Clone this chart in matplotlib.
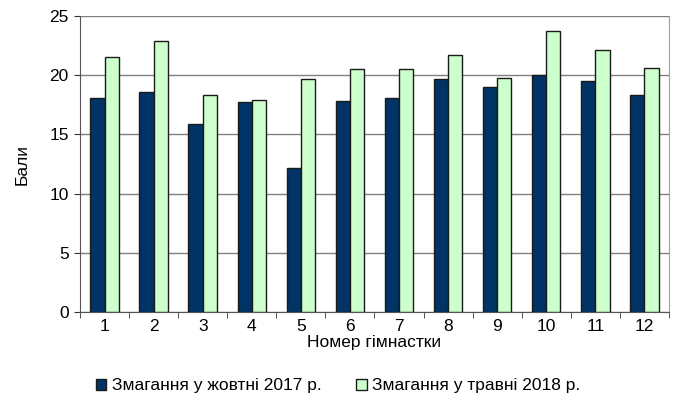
import matplotlib
matplotlib.use("Agg")
import matplotlib.pyplot as plt
import numpy as np

plt.rcParams['font.family'] = ['Liberation Sans', 'DejaVu Sans']

gymnastics = [str(i) for i in range(1, 13)]
october_2017 = [18.1, 18.6, 15.9, 17.7, 12.2, 17.8, 18.1, 19.7, 19.0, 20.0, 19.5, 18.3]
may_2018 = [21.5, 22.9, 18.3, 17.9, 19.7, 20.5, 20.5, 21.7, 19.8, 23.7, 22.1, 20.6]
labels = ["Змагання у жовтні 2017 р.", "Змагання у травні 2018 р."]

DARK = "#003366"
LIGHT = "#ccffcc"
EDGE = "#1a1a1a"
FS = 12.5

fig = plt.figure(figsize=(6.76, 4.04), dpi=100)
ax = fig.add_axes([0.1183, 0.2277, 0.8713, 0.7327])

x = np.arange(len(gymnastics))
width = 0.29
ax.bar(x - width / 2, october_2017, width, color=DARK, edgecolor=EDGE, linewidth=1.0,
       label=labels[0], zorder=3)
ax.bar(x + width / 2, may_2018, width, color=LIGHT, edgecolor=EDGE, linewidth=1.0,
       label=labels[1], zorder=3)

ax.set_xlim(-0.5, len(gymnastics) - 0.5)
ax.set_ylim(0, 25)
ax.set_yticks(range(0, 26, 5))
ax.set_xticks(x)
ax.set_xticklabels(gymnastics)
ax.set_xticks(np.arange(-0.5, len(gymnastics)), minor=True)
ax.tick_params(axis='x', which='major', length=0, labelsize=FS, pad=5)
ax.tick_params(axis='x', which='minor', length=4, direction='out', color='#333333')
ax.tick_params(axis='y', length=4, direction='out', labelsize=FS, color='#333333', pad=4)

ax.yaxis.grid(True, color='#808080', linewidth=1.0, zorder=0)
ax.spines['top'].set_visible(False)
ax.spines['right'].set_color('#a0a0a0')
ax.spines['left'].set_color('#555555')
ax.spines['bottom'].set_color('#555555')

ax.set_xlabel("Номер гімнастки", fontsize=FS, labelpad=1)
ax.set_ylabel("Бали", fontsize=FS, labelpad=14)

fig.legend(loc='lower center', bbox_to_anchor=(0.5, -0.012), ncol=2, frameon=False,
           fontsize=FS, handlelength=0.6, handleheight=0.6, handletextpad=0.3,
           columnspacing=2.0)

fig.savefig("out.png", dpi=100)
